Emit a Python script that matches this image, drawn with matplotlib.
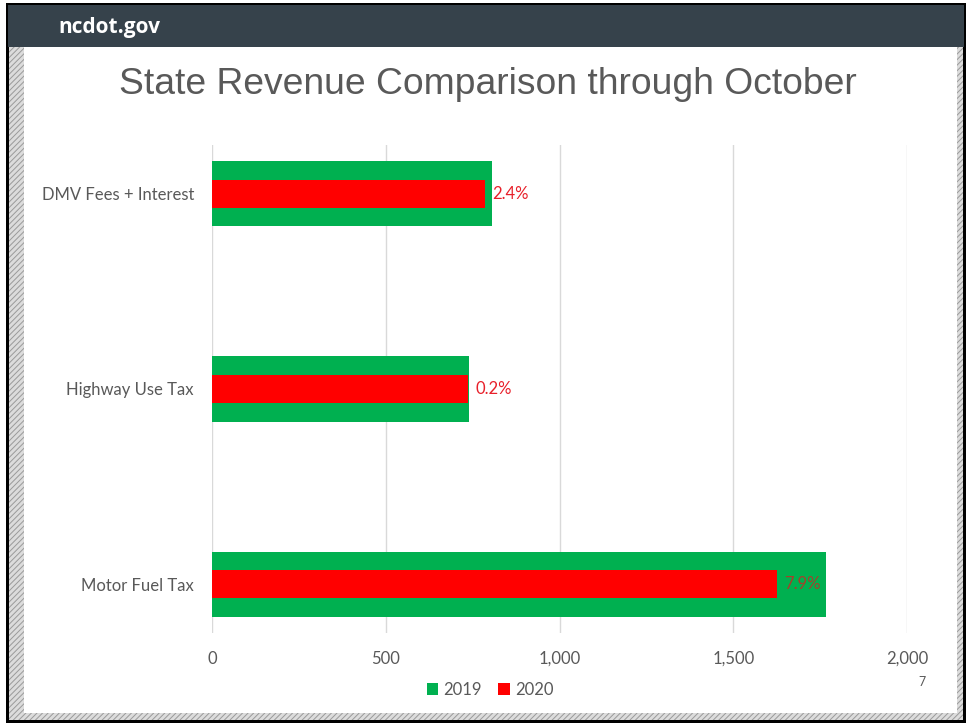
import matplotlib.pyplot as plt
from matplotlib.patches import Rectangle

# Data (millions of dollars)
categories = ['DMV Fees + Interest', 'Highway Use Tax', 'Motor Fuel Tax']
rev_2019 = [806, 739, 1766]
rev_2020 = [787, 738, 1627]
pct_labels = ['2.4%', '0.2%', '7.9%']
x_ticks = [0, 500, 1000, 1500, 2000]
x_ticklabels = ['0', '500', '1,000', '1,500', '2,000']

W, H = 969, 723
fig = plt.figure(figsize=(W / 100, H / 100), dpi=100)
fig.patch.set_facecolor('white')


def px_rect(x0, y0, x1, y1, **kw):
    # rectangle given in pixel coords (origin top-left)
    r = Rectangle((x0 / W, 1 - y1 / H), (x1 - x0) / W, (y1 - y0) / H,
                  transform=fig.transFigure, **kw)
    fig.add_artist(r)
    return r


# slide frame
px_rect(6, 3, 966, 723, facecolor='black', edgecolor='none', zorder=0)
plt.rcParams['hatch.linewidth'] = 0.7
px_rect(9, 46, 963, 720, facecolor='#dcdcdc', edgecolor='#9a9a9a',
        hatch='//////', linewidth=0, zorder=1)
px_rect(24, 47, 957, 713, facecolor='white', edgecolor='none', zorder=2)
px_rect(8, 5, 964, 47, facecolor='#36424b', edgecolor='none', zorder=3)
fig.text(58 / W, 1 - 27 / H, 'ncdot.gov', color='white', fontsize=15,
         fontweight='bold', family='Open Sans', va='center', ha='left', zorder=4)

fig.text(488 / W, 1 - 84 / H, 'State Revenue Comparison through October',
         color='#595959', fontsize=26.8, family='Liberation Sans',
         ha='center', va='center', zorder=4)

# chart
ax = fig.add_axes([212 / W, 1 - 633 / H, (907 - 212) / W, (633 - 145) / H])
ax.set_zorder(5)
ax.patch.set_alpha(0)
ypos = list(range(len(categories)))
ax.barh(ypos, rev_2019, height=0.335, color='#00b050', label='2019', zorder=2)
ax.barh(ypos, rev_2020, height=0.145, color='#ff0000', label='2020', zorder=3)

for i in range(len(categories)):
    ax.annotate(pct_labels[i], (rev_2020[i], ypos[i]), xytext=(5, 0),
                textcoords='offset points', va='center', ha='left',
                fontsize=12, family='Lato',
                color='#a5402a' if i == 2 else '#e8202a', zorder=4)

ax.set_ylim(2.25, -0.25)
ax.set_xlim(0, 2000)
ax.set_yticks(ypos)
ax.set_yticklabels(categories, family='Lato', fontsize=12, color='#595959')
ax.set_xticks(x_ticks)
ax.set_xticklabels(x_ticklabels, family='Lato', fontsize=12, color='#595959')
ax.tick_params(axis='both', length=0)
ax.tick_params(axis='x', pad=13)
ax.tick_params(axis='y', pad=13)
ax.grid(axis='x', color='#d9d9d9', linewidth=1, zorder=0)
ax.set_axisbelow(True)
for s in ax.spines.values():
    s.set_visible(False)

fig.legend(*ax.get_legend_handles_labels(), loc='center',
           bbox_to_anchor=(490 / W, 1 - 690 / H), ncol=2, frameon=False,
           handlelength=0.7, handleheight=0.7, handletextpad=0.3,
           columnspacing=1.0, prop={'family': 'Lato', 'size': 12},
           labelcolor='#595959')

fig.text(922 / W, 1 - 682 / H, '7', color='#595959', fontsize=9,
         family='Lato', ha='center', va='center', zorder=6)

fig.savefig('out.png', dpi=100)
